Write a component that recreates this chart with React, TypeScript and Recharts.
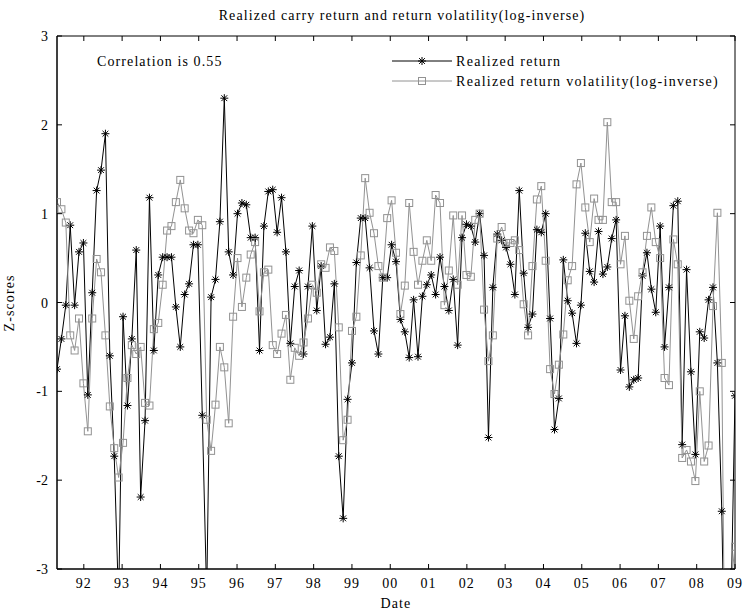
import React from "react";
import { LineChart, Line, XAxis, YAxis, ReferenceArea } from "recharts";

// plot box in page pixels (MATLAB-style framed axes)
const PLOT = { left: 57, right: 735, top: 36, bottom: 569 };
const FONT = "'Liberation Serif', 'Times New Roman', serif";

const firstYear = 1991.3;
const lastYear = 2009;

const yearTicks = [
  1992, 1993, 1994, 1995, 1996, 1997, 1998, 1999, 2000, 2001, 2002, 2003, 2004,
  2005, 2006, 2007, 2008, 2009,
];
const yearLabels = [
  "92", "93", "94", "95", "96", "97", "98", "99", "00", "01", "02", "03", "04",
  "05", "06", "07", "08", "09",
];
const zTicks = [-3, -2, -1, 0, 1, 2, 3];

const realizedReturn = [
  -0.75, -0.41, -0.03, 0.87, -0.03, 0.57, 0.67, -1.04, 0.11, 1.26, 1.49, 1.9,
  -0.6, -1.73, -3.4, -0.16, -1.16, -0.41, 0.59, -2.19,
  -1.33, 1.18, -0.54, 0.31, 0.51, 0.51, 0.51, -0.05, -0.5, 0.09, 0.21, 0.65,
  0.65, -1.27, -3.3, 0.06, 0.26, 0.91, 2.3, 0.57,
  0.31, 1.0, 1.12, 1.1, 0.73, 0.73, -0.54, 0.86, 1.25, 1.27, 0.79, 1.18, 0.57,
  -0.46, 0.18, 0.36, -0.58, 0.18, 0.86,
  -0.09, 0.41, -0.47, -0.39, 0.21, -1.73, -2.43, -1.09, -0.68, 0.45, 0.95,
  0.95, 0.39, -0.32, -0.58, 0.28, 0.28, 0.65, 0.46, -0.19,
  -0.33, -0.62, 0.03, -0.61, 0.07, 0.2, 0.31, 0.09, 0.51, 0.18, -0.09, 0.26,
  -0.48, 0.73, 0.88, 0.86, 0.68, 1.0, 0.53,
  -1.52, 0.17, 0.77, 0.7, 0.62, 0.43, 0.09, 1.26, 0.33, -0.28, -0.13, 0.82,
  0.79, 1.0, -0.18, -1.43, -1.08, 0.48, 0.02,
  -0.12, -0.46, -0.03, 0.78, 0.35, 0.23, 0.8, 0.32, 0.4, 0.72, 0.93, -0.76,
  -0.15, -0.95, -0.87, -0.85, 0.3, 0.56, 0.15, -0.11,
  0.86, -0.5, 0.17, 1.09, 1.14, -1.6, 0.37, -0.78, -1.71, -0.33, -0.4, 0.03,
  0.17, -0.68, -2.35, -5.2, -3.7, -1.05,
];

const returnVolatility = [
  1.13, 1.05, 0.9, -0.37, -0.54, -0.18, -0.91, -1.45, -0.18, 0.49, 0.34, -0.37,
  -1.17, -1.64, -1.97, -1.58, -0.85, -0.48, -0.58, -0.5,
  -1.13, -1.16, -0.3, -0.23, 0.2, 0.81, 0.86, 1.13, 1.38, 1.06, 0.81, 0.78,
  0.93, 0.87, -1.32, -1.67, -1.15, -0.5, -0.73, -1.36,
  -0.16, 0.5, -0.05, 0.28, 0.54, 0.68, -0.1, 0.34, 0.37, -0.48, -0.58, -0.35,
  -0.14, -0.87, -0.51, -0.6, -0.45, -0.18, 0.2,
  0.11, 0.43, 0.39, 0.62, 0.58, -0.28, -1.55, -1.32, -0.32, -0.16, 0.53, 1.4,
  1.01, 0.78, 0.41, 0.28, 0.95, 1.15, 0.56, -0.13,
  0.19, 1.12, 0.57, 0.2, 0.47, 0.7, 0.47, 1.21, 1.12, -0.03, 0.36, 0.98, 0.2,
  0.98, 0.31, 0.29, 0.93, 1.0, -0.08,
  -0.66, -0.37, 0.72, 0.85, 0.67, 0.67, 0.7, 0.59, -0.02, -0.37, 0.41, 1.16,
  1.31, 0.47, -0.75, -1.03, -0.7, -0.36, 0.25,
  0.41, 1.33, 1.57, 1.07, 0.68, 1.17, 0.93, 0.93, 2.03, 1.13, 1.13, 0.43, 0.75,
  0.02, -0.41, 0.07, 0.34, 0.75, 1.07, 0.68,
  0.5, -0.85, -0.93, 0.71, 0.43, -1.75, -1.66, -1.79, -2.01, -1.0, -1.79,
  -1.61, -0.04, 1.01, -0.68, -5.8, -3.2, -2.75,
];

const step = (lastYear - firstYear) / (realizedReturn.length - 1);
const data = realizedReturn.map((r, i) => ({
  t: firstYear + i * step,
  ret: r,
  vol: returnVolatility[i],
}));

const GRAY = "#929292";

const StarDot = (props: any) => {
  const { cx, cy } = props;
  if (cx == null || cy == null) return null;
  const r = 4;
  const d = 2.9;
  return (
    <g stroke="#000" strokeWidth={1}>
      <line x1={cx - r} y1={cy} x2={cx + r} y2={cy} />
      <line x1={cx} y1={cy - r} x2={cx} y2={cy + r} />
      <line x1={cx - d} y1={cy - d} x2={cx + d} y2={cy + d} />
      <line x1={cx - d} y1={cy + d} x2={cx + d} y2={cy - d} />
    </g>
  );
};

const SquareDot = (props: any) => {
  const { cx, cy } = props;
  if (cx == null || cy == null) return null;
  return (
    <rect x={cx - 3.5} y={cy - 3.5} width={7} height={7} fill="none" stroke={GRAY} strokeWidth={1} />
  );
};

const XTick = (props: any) => {
  const { x, payload } = props;
  const label = yearLabels[yearTicks.indexOf(payload.value)];
  return (
    <g>
      <line x1={x} x2={x} y1={PLOT.bottom} y2={PLOT.bottom - 5} stroke="#000" />
      <line x1={x} x2={x} y1={PLOT.top} y2={PLOT.top + 5} stroke="#000" />
      <text x={x} y={PLOT.bottom + 19} textAnchor="middle" fontSize={14} fontFamily={FONT} fill="#000" letterSpacing={1}>
        {label}
      </text>
    </g>
  );
};

const YTick = (props: any) => {
  const { y, payload } = props;
  return (
    <g>
      <line x1={PLOT.left} x2={PLOT.left + 5} y1={y} y2={y} stroke="#000" />
      <line x1={PLOT.right} x2={PLOT.right - 5} y1={y} y2={y} stroke="#000" />
      <text x={PLOT.left - 9} y={y + 5} textAnchor="end" fontSize={14} fontFamily={FONT} fill="#000">
        {payload.value}
      </text>
    </g>
  );
};

const textStyle = { fontFamily: FONT, fontSize: 14, fill: "#000", letterSpacing: 1.1 };
const legendStyle = { ...textStyle, letterSpacing: 1.3 };

export default function App() {
  return (
    <div style={{ position: "absolute", left: 0, top: 0, width: 743, height: 611, background: "#fff" }}>
      <LineChart
        width={743}
        height={611}
        data={data}
        margin={{ top: PLOT.top, right: 743 - PLOT.right, bottom: 0, left: 0 }}
      >
        <XAxis
          type="number"
          dataKey="t"
          domain={[firstYear, lastYear]}
          ticks={yearTicks}
          interval={0}
          allowDataOverflow
          height={611 - PLOT.bottom}
          tickLine={false}
          tickSize={0}
          tickMargin={0}
          axisLine={{ stroke: "#000" }}
          tick={<XTick />}
        />
        <YAxis
          type="number"
          domain={[-3, 3]}
          ticks={zTicks}
          interval={0}
          allowDataOverflow
          width={PLOT.left}
          tickLine={false}
          tickSize={0}
          tickMargin={0}
          axisLine={{ stroke: "#000" }}
          tick={<YTick />}
        />
        <ReferenceArea x1={firstYear} x2={lastYear} y1={-3} y2={3} fill="none" stroke="#000" strokeWidth={1} />
        <Line
          type="linear"
          dataKey="ret"
          stroke="#000"
          strokeWidth={1}
          dot={<StarDot />}
          activeDot={false}
          isAnimationActive={false}
        />
        <Line
          type="linear"
          dataKey="vol"
          stroke={GRAY}
          strokeWidth={1}
          dot={<SquareDot />}
          activeDot={false}
          isAnimationActive={false}
        />
      </LineChart>
      <svg width={743} height={611} style={{ position: "absolute", left: 0, top: 0, pointerEvents: "none" }}>
        <text x={402} y={20} textAnchor="middle" style={textStyle}>
          Realized carry return and return volatility(log-inverse)
        </text>
        <text x={97} y={66} style={textStyle}>
          Correlation is 0.55
        </text>
        <line x1={392} x2={452} y1={61} y2={61} stroke="#000" />
        <StarDot cx={422} cy={61} />
        <text x={456} y={66} style={legendStyle}>
          Realized return
        </text>
        <line x1={392} x2={452} y1={81} y2={81} stroke={GRAY} />
        <SquareDot cx={422} cy={81} />
        <text x={456} y={86} style={legendStyle}>
          Realized return volatility(log-inverse)
        </text>
        <text x={396} y={608} textAnchor="middle" style={textStyle}>
          Date
        </text>
        <text x={0} y={0} textAnchor="middle" transform="translate(14 303) rotate(-90)" style={textStyle}>
          Z-scores
        </text>
      </svg>
    </div>
  );
}
